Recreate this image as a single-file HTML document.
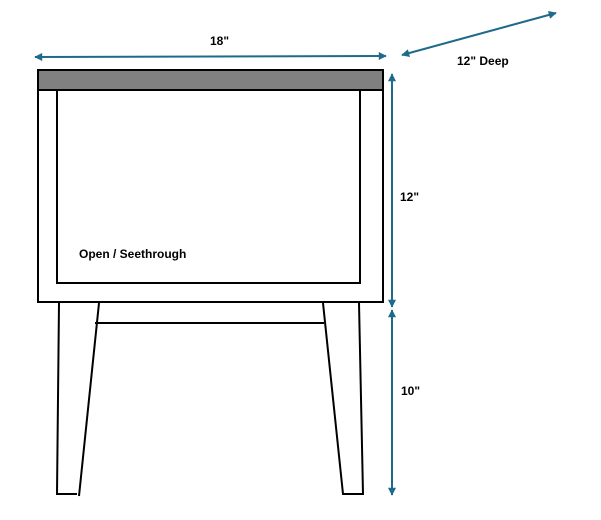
<!DOCTYPE html>
<html><head><style>body{margin:0;background:#fff}svg{display:block}text{font-family:"Liberation Sans",sans-serif;font-weight:bold;font-size:12px;fill:#000}</style></head>
<body>
<svg width="601" height="520" viewBox="0 0 601 520">
<defs><marker id="a" viewBox="0 0 10 10" refX="9" refY="5" markerWidth="9" markerHeight="8" markerUnits="userSpaceOnUse" orient="auto-start-reverse"><path d="M0,0 L10,5 L0,10 z" fill="#1f6a8a"/></marker></defs>
<rect x="38" y="70" width="345" height="232" fill="#fff" stroke="#000" stroke-width="2"/>
<rect x="38" y="70" width="345" height="20" fill="#808080" stroke="#000" stroke-width="2"/>
<rect x="57" y="90" width="303" height="193" fill="none" stroke="#000" stroke-width="2"/>
<g stroke="#000" stroke-width="2" fill="none">
<path d="M59,303 L57,494 L77,494"/>
<path d="M99,303 L79,496"/>
<path d="M95,323 L324,323"/>
<path d="M323,303 L343,494 L363,494 L359,303"/>
</g>
<g stroke="#1f6a8a" stroke-width="2" fill="none">
<line x1="35" y1="57" x2="386" y2="56" marker-start="url(#a)" marker-end="url(#a)"/>
<line x1="402" y1="55" x2="556" y2="13" marker-start="url(#a)" marker-end="url(#a)"/>
<line x1="392" y1="74" x2="392" y2="307" marker-start="url(#a)" marker-end="url(#a)"/>
<line x1="392" y1="310" x2="392" y2="495" marker-start="url(#a)" marker-end="url(#a)"/>
</g>
<text x="210" y="45">18"</text>
<text x="457" y="65">12" Deep</text>
<text x="400" y="201">12"</text>
<text x="401" y="395">10"</text>
<text x="79" y="258">Open / Seethrough</text>
</svg>
</body></html>
